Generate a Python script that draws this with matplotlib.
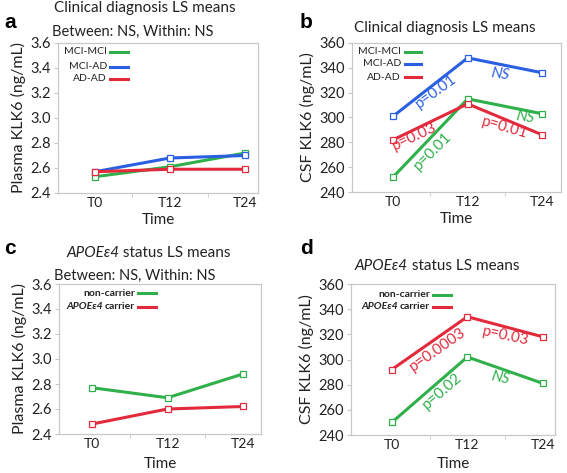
import matplotlib
matplotlib.use("Agg")
import matplotlib.pyplot as plt
from matplotlib.lines import Line2D

plt.rcParams['font.family'] = ['Lato', 'Open Sans', 'DejaVu Sans']

# ---------------- data ----------------
times = ["T0", "T12", "T24"]

# Panel a: plasma KLK6 by clinical diagnosis
plasma_mci_mci = [2.53, 2.61, 2.72]
plasma_mci_ad = [2.57, 2.68, 2.70]
plasma_ad_ad = [2.57, 2.59, 2.59]

# Panel b: CSF KLK6 by clinical diagnosis
csf_mci_mci = [252, 315, 303]
csf_mci_ad = [301, 348, 336]
csf_ad_ad = [282, 311, 286]

# Panel c: plasma KLK6 by APOE e4 status
plasma_noncarrier = [2.77, 2.69, 2.88]
plasma_carrier = [2.48, 2.60, 2.62]

# Panel d: CSF KLK6 by APOE e4 status
csf_noncarrier = [250, 302, 281]
csf_carrier = [292, 334, 318]

diag_labels = ["MCI-MCI", "MCI-AD", "AD-AD"]
apoe_labels = ["non-carrier", "carrier"]

plasma_ticks = [2.4, 2.6, 2.8, 3.0, 3.2, 3.4, 3.6]
csf_ticks = [240, 260, 280, 300, 320, 340, 360]

GREEN = "#2fb04a"
BLUE = "#2a5fe2"
RED = "#e22a3c"
TXT = "#222222"

fig = plt.figure(figsize=(5.67, 4.73), dpi=100)
W, H = 567, 473


def px_axes(l, t, r, b):
    return fig.add_axes([l / W, 1 - b / H, (r - l) / W, (b - t) / H])


def style(ax, ticks, ylim, xlim, ylabel, xlabelpad=2):
    x = list(range(len(times)))
    ax.set_xlim(*xlim)
    ax.set_ylim(*ylim)
    ax.set_yticks(ticks)
    if isinstance(ticks[0], float):
        ax.set_yticklabels([f"{t:.1f}" for t in ticks])
    ax.set_xticks(x)
    ax.set_xticklabels(times)
    ax.set_xticks([0.5, 1.5], minor=True)
    for s in ax.spines.values():
        s.set_color("#c8c8c8")
        s.set_linewidth(0.9)
    ax.tick_params(axis="x", which="major", length=0, labelsize=10, colors=TXT, pad=3)
    ax.tick_params(axis="x", which="minor", length=3, color="#c8c8c8")
    ax.tick_params(axis="y", which="major", length=3, color="#c8c8c8", labelsize=10.5,
                   labelcolor=TXT, pad=2)
    ax.set_xlabel("Time", fontsize=11, color=TXT, labelpad=xlabelpad)
    ax.set_ylabel(ylabel, fontsize=11.5, color=TXT, labelpad=3)


def plot_series(ax, vals, color):
    ax.plot(range(len(times)), vals, color=color, lw=2.2, marker="s", ms=4.5,
            mfc="white", mec=color, mew=0.9, zorder=3)


def legend_rows(ax, labels, colors, xt, x0, x1, ys, bold=False, italic_prefix=None):
    for i, (lab, c, y) in enumerate(zip(labels, colors, ys)):
        w = "bold" if bold else "normal"
        t = ax.text(xt, y, lab, transform=ax.transAxes, ha="right", va="center",
                    fontsize=7.5, color=TXT, fontweight=w)
        if italic_prefix is not None and i == len(labels) - 1:
            ax.annotate(italic_prefix, xy=(0, 0), xycoords=t, ha="right", va="bottom",
                        fontsize=7.5, color=TXT, fontweight="bold", fontstyle="italic")
        ax.add_line(Line2D([x0, x1], [y, y], transform=ax.transAxes, color=c, lw=2.2))


# ---------------- panel a ----------------
axa = px_axes(58, 43, 258, 193)
plot_series(axa, plasma_mci_mci, GREEN)
plot_series(axa, plasma_mci_ad, BLUE)
plot_series(axa, plasma_ad_ad, RED)
style(axa, plasma_ticks, (2.4, 3.6), (-0.49, 2.17), "Plasma KLK6 (ng/mL)", xlabelpad=3)
legend_rows(axa, diag_labels, [GREEN, BLUE, RED], 0.245, 0.26, 0.35, [0.94, 0.84, 0.76])

# ---------------- panel b ----------------
axb = px_axes(352, 43, 561, 192)
plot_series(axb, csf_mci_mci, GREEN)
plot_series(axb, csf_mci_ad, BLUE)
plot_series(axb, csf_ad_ad, RED)
style(axb, csf_ticks, (240, 360), (-0.55, 2.25), "CSF KLK6 (ng/mL)", xlabelpad=3)
legend_rows(axb, diag_labels, [GREEN, BLUE, RED], 0.234, 0.254, 0.33, [0.94, 0.86, 0.77])
ann_kw = dict(ha="center", va="center", fontsize=11)
axb.text(0.57, 321, "p=0.01", color=BLUE, rotation=36, **ann_kw)
axb.text(1.43, 334.5, "NS", color=BLUE, rotation=-8, style="italic", **ann_kw)
axb.text(0.29, 284.5, "p=0.03", color=RED, rotation=25, **ann_kw)
axb.text(0.53, 272.5, "p=0.01", color=GREEN, rotation=45, **ann_kw)
axb.text(1.77, 300.5, "NS", color=GREEN, rotation=-8, style="italic", **ann_kw)
axb.text(1.49, 291.5, "p=0.01", color=RED, rotation=-16, **ann_kw)

# ---------------- panel c ----------------
axc = px_axes(59, 284, 261, 434)
plot_series(axc, plasma_noncarrier, GREEN)
plot_series(axc, plasma_carrier, RED)
style(axc, plasma_ticks, (2.4, 3.6), (-0.44, 2.24), "Plasma KLK6 (ng/mL)", xlabelpad=5)
legend_rows(axc, apoe_labels, [GREEN, RED], 0.376, 0.39, 0.48, [0.94, 0.85],
            bold=True, italic_prefix="APOE\u03b54 ")

# ---------------- panel d ----------------
axd = px_axes(351, 284, 555, 435)
plot_series(axd, csf_noncarrier, GREEN)
plot_series(axd, csf_carrier, RED)
style(axd, csf_ticks, (240, 360), (-0.54, 2.16), "CSF KLK6 (ng/mL)", xlabelpad=4)
legend_rows(axd, apoe_labels, [GREEN, RED], 0.387, 0.40, 0.49, [0.93, 0.85],
            bold=True, italic_prefix="APOE\u03b54 ")
axd.text(0.61, 308.3, "p=0.0003", color=RED, rotation=35, **ann_kw)
axd.text(1.50, 318.7, "p=0.03", color=RED, rotation=-12, **ann_kw)
axd.text(0.67, 275, "p=0.02", color=GREEN, rotation=41, **ann_kw)
axd.text(1.44, 285.3, "NS", color=GREEN, rotation=-12, style="italic", **ann_kw)

# ---------------- titles & letters ----------------
def ftext(x, y, s, **kw):
    return fig.text(x / W, 1 - y / H, s, **kw)

tkw = dict(fontsize=11, color=TXT, va="center")
ftext(145, 8, "Clinical diagnosis LS means", ha="center", **tkw)
ftext(133, 32, "Between: NS, Within: NS", ha="center", fontsize=10.5, color=TXT, va="center")
ftext(445, 28, "Clinical diagnosis LS means", ha="center", **tkw)

t1 = ftext(66, 253, "APOE\u03b54", ha="left", fontstyle="italic", **tkw)
axc.annotate(" status LS means", xy=(1, 0), xycoords=t1, ha="left", va="bottom",
             fontsize=11, color=TXT, annotation_clip=False)
ftext(135, 276, "Between: NS, Within: NS", ha="center", fontsize=10.5, color=TXT, va="center")

t2 = ftext(355, 266, "APOE\u03b54", ha="left", fontstyle="italic", **tkw)
axd.annotate(" status LS means", xy=(1, 0), xycoords=t2, ha="left", va="bottom",
             fontsize=11, color=TXT, annotation_clip=False)

lkw = dict(fontsize=15, fontweight="bold", color="black", va="center", ha="left",
           family=["Liberation Sans", "DejaVu Sans"])
ftext(4, 23, "a", **lkw)
ftext(300, 23, "b", **lkw)
ftext(4, 249, "c", **lkw)
ftext(300, 248, "d", **lkw)

fig.savefig("out.png", dpi=100)
